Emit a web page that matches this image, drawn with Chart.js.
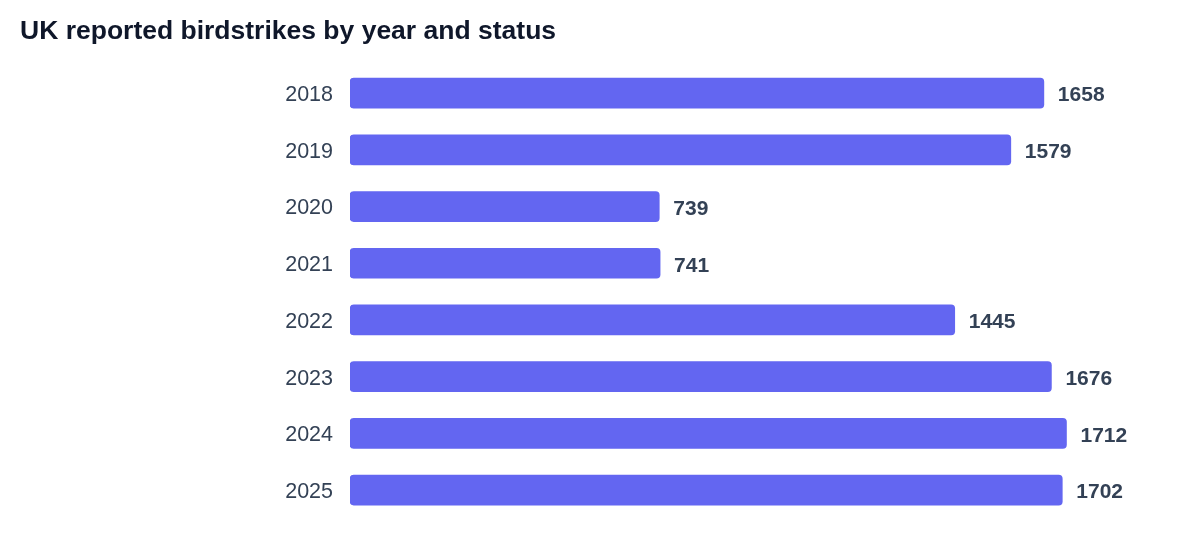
<!DOCTYPE html>
<html lang="en">
<head>
  <meta charset="UTF-8">
  <title>UK reported birdstrikes by year and status</title>
  <style>
    html, body {
      margin: 0;
      padding: 0;
      background: #ffffff;
    }
    #wrap {
      width: 1200px;
      height: 540px;
    }
  </style>
  <script src="https://cdn.jsdelivr.net/npm/chart.js"></script>
</head>
<body>
  <div id="wrap">
    <canvas id="birdChart" width="1200" height="540"></canvas>
  </div>

  <script>
    var years = ['2018', '2019', '2020', '2021', '2022', '2023', '2024', '2025'];
    var strikes = [1658, 1579, 739, 741, 1445, 1676, 1712, 1702];

    var fontFamily = '"Liberation Sans", Arial, Helvetica, sans-serif';

    // draws the number just past the end of each bar
    var valueLabels = {
      id: 'valueLabels',
      afterDatasetsDraw: function (chart) {
        var ctx = chart.ctx;
        var meta = chart.getDatasetMeta(0);
        ctx.save();
        ctx.font = 'bold 21px ' + fontFamily;
        ctx.fillStyle = '#334155';
        ctx.textAlign = 'left';
        ctx.textBaseline = 'middle';
        meta.data.forEach(function (bar, i) {
          ctx.fillText(String(strikes[i]), bar.x + 14, bar.y + 2.5);
        });
        ctx.restore();
      }
    };

    var ctx = document.getElementById('birdChart').getContext('2d');
    var birdChart = new Chart(ctx, {
      type: 'bar',
      data: {
        labels: years,
        datasets: [{
          label: 'Reported birdstrikes',
          data: strikes,
          backgroundColor: '#6366F1',
          borderRadius: 4,
          borderSkipped: false,
          barThickness: 30
        }]
      },
      options: {
        indexAxis: 'y',
        responsive: false,
        animation: false,
        layout: {
          padding: { left: 20, right: 13, top: 0, bottom: 21.6 }
        },
        plugins: {
          legend: { display: false },
          tooltip: { enabled: false },
          title: {
            display: true,
            text: 'UK reported birdstrikes by year and status',
            align: 'start',
            color: '#0f172a',
            font: { family: fontFamily, size: 26.5, weight: 'bold' },
            padding: { top: 16, bottom: 17 }
          }
        },
        scales: {
          x: {
            display: false,
            min: 0,
            max: 2000
          },
          y: {
            grid: { display: false, drawTicks: false },
            border: { display: false },
            ticks: {
              color: '#334155',
              padding: 17,
              labelOffset: 2,
              font: { family: fontFamily, size: 21.5 }
            },
            afterFit: function (scale) {
              scale.width = 330;
              // labels sit inside their bands, no extra room needed top/bottom
              scale.paddingTop = 0;
              scale.paddingBottom = 0;
            }
          }
        }
      },
      plugins: [valueLabels]
    });
  </script>
</body>
</html>
